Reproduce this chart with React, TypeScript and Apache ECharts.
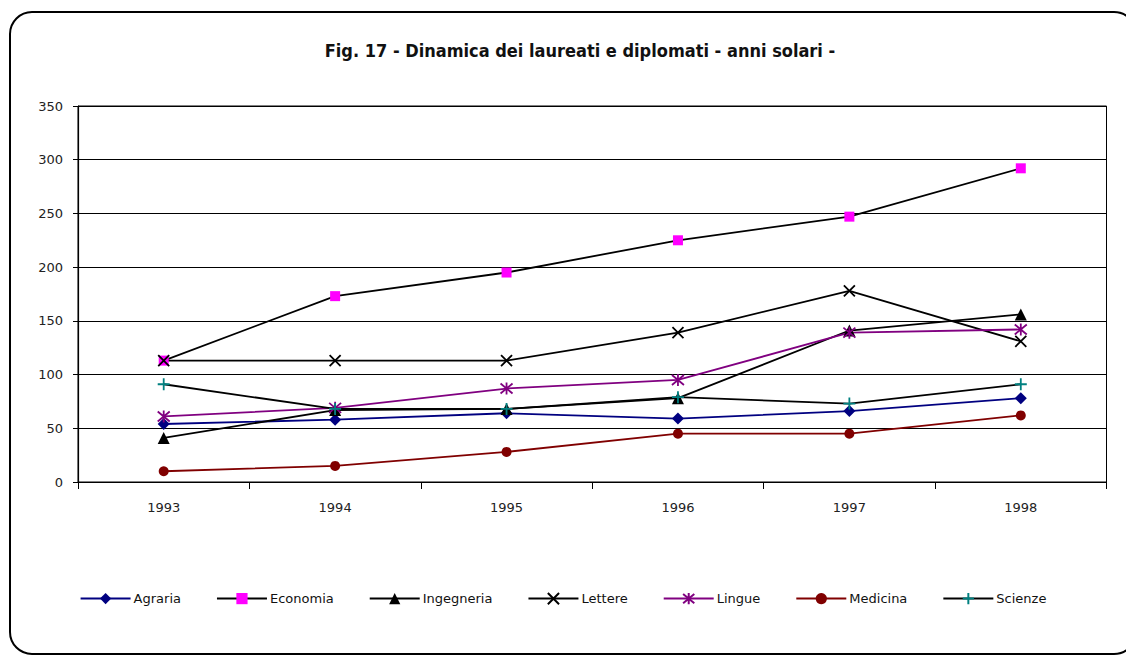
import React, { useEffect, useRef } from "react";
import * as echarts from "echarts";

const years = ["1993", "1994", "1995", "1996", "1997", "1998"];
const agraria = [54, 58, 64, 59, 66, 78];
const economia = [113, 173, 195, 225, 247, 292];
const ingegneria = [41, 67, 68, 78, 141, 156];
const lettere = [113, 113, 113, 139, 178, 131];
const lingue = [61, 69, 87, 95, 139, 142];
const medicina = [10, 15, 28, 45, 45, 62];
const scienze = [91, 68, 68, 79, 73, 91];
const yTicks = { min: 0, max: 350, interval: 50 };

const titleText = "Fig. 17 - Dinamica dei laureati e diplomati - anni solari -";

const X_PATH = "path://M0,0L10,10M10,0L0,10";
const STAR_PATH = "path://M0,0L10,10M10,0L0,10M5,-1L5,11";
const PLUS_PATH = "path://M5,0L5,10M0,5L10,5";

export default function App() {
  const ref = useRef<HTMLDivElement>(null);
  useEffect(() => {
    if (!ref.current) return;
    const chart = echarts.init(ref.current, null, { renderer: "svg" });
    const font = "'DejaVu Sans', Arial, sans-serif";
    const mk = (
      name: string,
      data: number[],
      lineColor: string,
      markColor: string,
      symbol: string,
      size: number,
      stroke?: boolean
    ) => ({
      name,
      type: "line",
      data,
      symbol,
      symbolSize: size,
      showAllSymbol: true,
      lineStyle: { color: lineColor, width: 1.8 },
      itemStyle: stroke
        ? { color: markColor, borderColor: markColor, borderWidth: 1.8 }
        : { color: markColor, borderColor: markColor, borderWidth: 0 },
      emphasis: { disabled: true },
    });
    chart.setOption({
      animation: false,
      backgroundColor: "#ffffff",
      title: {
        text: titleText,
        left: 575,
        textAlign: "center",
        top: 36,
        textStyle: {
          fontFamily: "'DejaVu Sans Condensed', 'Liberation Sans Narrow', 'Arial Narrow', sans-serif",
          fontWeight: "bold",
          fontSize: 18,
          color: "#111",
        },
      },
      graphic: [
        {
          type: "rect",
          shape: { x: 10, y: 12, width: 1126, height: 642, r: 22 },
          style: { fill: "none", stroke: "#000", lineWidth: 2 },
          silent: true,
        },
      ],
      legend: {
        left: "center",
        top: 587,
        itemWidth: 50,
        itemHeight: 14,
        itemGap: 35,
        textStyle: { fontFamily: font, fontSize: 13, color: "#111", padding: [0, 0, 0, -2] },
        data: ["Agraria", "Economia", "Ingegneria", "Lettere", "Lingue", "Medicina", "Scienze"],
      },
      grid: {
        left: 78,
        right: 19.5,
        top: 106,
        bottom: 175,
        show: true,
        borderColor: "#000",
        borderWidth: 1,
        backgroundColor: "transparent",
      },
      xAxis: {
        type: "category",
        data: years,
        boundaryGap: true,
        axisLine: { lineStyle: { color: "#000", width: 1.2 } },
        axisTick: { show: true, length: 7, lineStyle: { color: "#000" } },
        axisLabel: { fontFamily: font, fontSize: 13, color: "#222", margin: 19 },
        splitLine: { show: false },
      },
      yAxis: {
        type: "value",
        min: yTicks.min,
        max: yTicks.max,
        interval: yTicks.interval,
        axisLine: { show: true, lineStyle: { color: "#000", width: 1.2 } },
        axisTick: { show: true, length: 5, lineStyle: { color: "#000" } },
        axisLabel: { fontFamily: font, fontSize: 13, color: "#222", margin: 15 },
        splitLine: { show: true, lineStyle: { color: "#000", width: 1 } },
      },
      series: [
        mk("Agraria", agraria, "#000080", "#000080", "diamond", 12),
        mk("Economia", economia, "#000000", "#ff00ff", "rect", 10),
        mk("Ingegneria", ingegneria, "#000000", "#000000", "triangle", 12),
        mk("Lettere", lettere, "#000000", "#000000", X_PATH, 11, true),
        mk("Lingue", lingue, "#800080", "#800080", STAR_PATH, 12, true),
        mk("Medicina", medicina, "#800000", "#800000", "circle", 10),
        mk("Scienze", scienze, "#000000", "#008080", PLUS_PATH, 12, true),
      ],
    });
    return () => chart.dispose();
  }, []);
  return (
    <div
      ref={ref}
      style={{ position: "fixed", left: 0, top: 0, width: 1126, height: 657, background: "#fff" }}
    />
  );
}
